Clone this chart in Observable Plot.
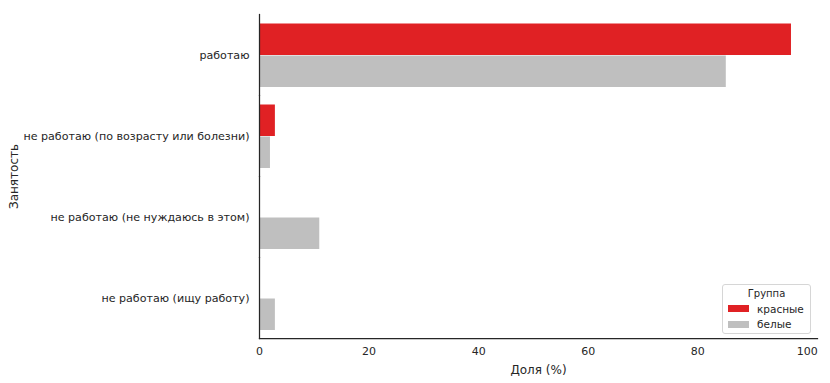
<!DOCTYPE html>
<html>
<head>
<meta charset="utf-8">
<script src="https://cdn.jsdelivr.net/npm/d3@7"></script>
<script src="https://cdn.jsdelivr.net/npm/@observablehq/plot@0.6"></script>
<style>
  html, body { margin: 0; padding: 0; background: #fff; }
  #wrap { position: relative; width: 830px; height: 383px; font-family: "DejaVu Sans", sans-serif; }
  #legend { position: absolute; left: 722px; top: 284px; width: 87px; height: 48px;
    border: 1px solid #d6d6d6; border-radius: 3px; background: rgba(255,255,255,0.8);
    font-size: 10.5px; color: #262626; }
  #legend .title { text-align: center; margin-top: 3px; margin-bottom: 2px; font-size: 10px; }
  #legend .row { display: flex; align-items: center; height: 15.5px; margin-left: 5px; }
  #legend .sw { width: 21px; height: 7px; margin-right: 8px; }
</style>
</head>
<body>
<div id="wrap"></div>
<script>
const categories = [
  "работаю",
  "не работаю (по возрасту или болезни)",
  "не работаю (не нуждаюсь в этом)",
  "не работаю (ищу работу)"
];
const groups = ["красные", "белые"];
const groupColors = ["#e02124", "#bfbfbf"];
const redValues = [97.1, 2.9, 0, 0];
const whiteValues = [85.2, 2.0, 11.0, 2.9];
const xTicks = [0, 20, 40, 60, 80, 100];
const xLabel = "Доля (%)";
const yLabel = "Занятость";
const legendTitle = "Группа";

const data = [];
categories.forEach((c, i) => {
  data.push({cat: c, group: groups[0], value: redValues[i]});
  data.push({cat: c, group: groups[1], value: whiteValues[i]});
});

const ink = "#262626";
const chart = Plot.plot({
  width: 830,
  height: 383,
  marginLeft: 259,
  marginRight: 13,
  marginTop: 13,
  marginBottom: 44,
  style: {fontFamily: "DejaVu Sans, sans-serif", fontSize: "11px", color: ink, background: "white"},
  x: {domain: [0, 101.85]},
  y: {domain: groups, paddingInner: 0, paddingOuter: 0.25, axis: null},
  fy: {domain: categories, padding: 0},
  color: {domain: groups, range: groupColors},
  marks: [
    Plot.barX(data, {x: "value", y: "group", fy: "cat", fill: "group", insetTop: 0.5, insetBottom: 0}),
    Plot.axisFy({anchor: "left", tickSize: 0, tickPadding: 10, fontSize: 11.1,
      label: yLabel, labelAnchor: "center", labelArrow: "none", labelOffset: 250}),
    Plot.axisX({ticks: xTicks, tickSize: 0, tickPadding: 9, fontSize: 11,
      label: xLabel, labelAnchor: "center", labelArrow: "none", labelOffset: 35}),
    Plot.frame({anchor: "left", stroke: ink, strokeWidth: 1.25}),
    Plot.frame({anchor: "bottom", stroke: ink, strokeWidth: 1.25, facetAnchor: "bottom"})
  ]
});
chart.querySelectorAll("[aria-label='fy-axis label'], [aria-label='x-axis label']").forEach(g => g.style.fontSize = "12px");
document.getElementById("wrap").appendChild(chart);

const lg = document.createElement("div");
lg.id = "legend";
let html = `<div class="title">${legendTitle}</div>`;
groups.forEach((g, i) => {
  html += `<div class="row"><div class="sw" style="background:${groupColors[i]}"></div><span>${g}</span></div>`;
});
lg.innerHTML = html;
document.getElementById("wrap").appendChild(lg);
</script>
</body>
</html>
